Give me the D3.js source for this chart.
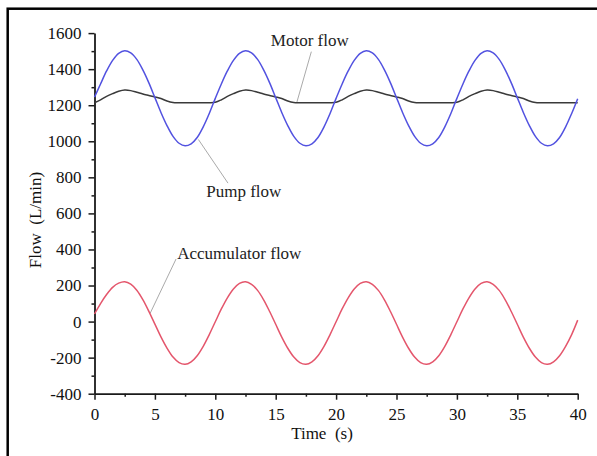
<!DOCTYPE html>
<html>
<head>
<meta charset="utf-8">
<script src="https://cdn.jsdelivr.net/npm/d3@7"></script>
<style>
	html, body { margin: 0; padding: 0; background: #fff; }
	svg { display: block; font-family: 'Liberation Serif', 'Times New Roman', serif; }
</style>
</head>
<body>
<div id="chart"></div>
<script>
// flow vs time (0.5 s steps)
const timeStep = 0.5;
const timeMax = 40;

const pumpFlow = [
	1245, 1318, 1390, 1449, 1488, 1502, 1490, 1454, 1396, 1324,
	1242, 1160, 1087, 1027, 989, 975, 986, 1021, 1080, 1154,
	1238, 1318, 1390, 1449, 1488, 1502, 1490, 1454, 1396, 1324,
	1242, 1160, 1087, 1027, 989, 975, 986, 1021, 1080, 1154,
	1238, 1318, 1390, 1449, 1488, 1502, 1490, 1454, 1396, 1324,
	1242, 1160, 1087, 1027, 989, 975, 986, 1021, 1080, 1154,
	1238, 1318, 1390, 1449, 1488, 1502, 1490, 1454, 1396, 1324,
	1242, 1160, 1087, 1027, 989, 975, 986, 1021, 1080, 1154,
	1236
];

const motorFlow = [
	1214, 1230, 1249, 1264, 1277, 1284, 1281, 1272, 1262, 1254,
	1246, 1237, 1223, 1215, 1214, 1214, 1214, 1214, 1214, 1214,
	1216, 1230, 1249, 1264, 1277, 1284, 1281, 1272, 1262, 1254,
	1246, 1237, 1223, 1215, 1214, 1214, 1214, 1214, 1214, 1214,
	1216, 1230, 1249, 1264, 1277, 1284, 1281, 1272, 1262, 1254,
	1246, 1237, 1223, 1215, 1214, 1214, 1214, 1214, 1214, 1214,
	1216, 1230, 1249, 1264, 1277, 1284, 1281, 1272, 1262, 1254,
	1246, 1237, 1223, 1215, 1214, 1214, 1214, 1214, 1214, 1214,
	1214
];

const accumulatorFlow = [
	42, 100, 150, 190, 213, 221, 208, 174, 122, 57,
	-14, -85, -147, -197, -228, -237, -223, -189, -137, -72,
	-1, 70, 132, 181, 212, 221, 207, 173, 121, 56,
	-15, -86, -148, -197, -228, -237, -223, -189, -137, -72,
	-1, 70, 132, 181, 212, 221, 207, 173, 121, 56,
	-15, -86, -148, -197, -228, -237, -223, -189, -137, -72,
	-1, 70, 132, 181, 212, 221, 207, 173, 121, 56,
	-15, -86, -148, -197, -228, -237, -223, -189, -137, -72,
	8
];

const xTicks = [0, 5, 10, 15, 20, 25, 30, 35, 40];
const yTicks = [-400, -200, 0, 200, 400, 600, 800, 1000, 1200, 1400, 1600];

// callout labels: text, label anchor (t, v), leader line from (t, v) to (t, v)
const labelText = ['Motor flow', 'Pump flow', 'Accumulator flow'];
const labelAt = [[14.6, 1528], [9.25, 691], [6.85, 347]];
const leaderFrom = [[17.95, 1497], [11.05, 768], [6.75, 347]];
const leaderTo = [[16.75, 1216], [8.6, 1010], [4.6, 45]];

(() => {
	const width = 597;
	const height = 456;

	const svg = d3.select('#chart')
		.append('svg')
		.attr('width', width)
		.attr('height', height);

	// outer frame, runs off the right and bottom edges
	svg.append('rect')
		.attr('x', 7.7)
		.attr('y', 8.7)
		.attr('width', 620)
		.attr('height', 480)
		.attr('fill', 'none')
		.attr('stroke', '#000')
		.attr('stroke-width', 2.5);

	const x = d3.scaleLinear().domain([0, 40]).range([94.5, 577.7]);
	const y = d3.scaleLinear().domain([-400, 1600]).range([393.7, 33.1]);

	const time = d3.range(0, timeMax + timeStep / 2, timeStep);

	const axisColor = '#1a1a1a';
	const fontSize = 17;
	const plain = d => String(d);

	// minor ticks first
	const xMinor = svg.append('g')
		.attr('transform', `translate(0,${y(-400)})`)
		.call(d3.axisBottom(x).tickValues(d3.range(2.5, 40, 5)).tickSize(3).tickFormat(''));
	const yMinor = svg.append('g')
		.attr('transform', `translate(${x(0)},0)`)
		.call(d3.axisLeft(y).tickValues(d3.range(-300, 1600, 200)).tickSize(3).tickFormat(''));
	[xMinor, yMinor].forEach(a => {
		a.select('.domain').remove();
		a.selectAll('line').attr('stroke', axisColor).attr('stroke-width', 1.5);
	});

	const xAxisG = svg.append('g')
		.attr('transform', `translate(0,${y(-400)})`)
		.call(d3.axisBottom(x).tickValues(xTicks).tickFormat(plain).tickSize(6).tickSizeOuter(0).tickPadding(8));
	const yAxisG = svg.append('g')
		.attr('transform', `translate(${x(0)},0)`)
		.call(d3.axisLeft(y).tickValues(yTicks).tickFormat(plain).tickSize(6).tickSizeOuter(0).tickPadding(7));

	[xAxisG, yAxisG].forEach(a => {
		a.select('.domain').attr('stroke', axisColor).attr('stroke-width', 1.8);
		a.selectAll('line').attr('stroke', axisColor).attr('stroke-width', 1.5);
		a.selectAll('text')
			.attr('fill', '#111')
			.attr('font-size', fontSize)
			.attr('font-family', "'Liberation Serif', serif");
	});

	// axis titles
	svg.append('text')
		.attr('x', 322)
		.attr('y', 439)
		.attr('text-anchor', 'middle')
		.attr('font-size', fontSize)
		.attr('fill', '#111')
		.style('white-space', 'pre')
		.text('Time  (s)');

	svg.append('text')
		.attr('transform', 'translate(41,220) rotate(-90)')
		.attr('text-anchor', 'middle')
		.attr('font-size', fontSize)
		.attr('fill', '#111')
		.style('white-space', 'pre')
		.text('Flow  (L/min)');

	const line = d3.line()
		.x((d, i) => x(time[i]))
		.y(d => y(d))
		.curve(d3.curveCatmullRom);

	const series = [
		{ values: motorFlow, color: '#3a3a3a' },
		{ values: pumpFlow, color: '#5252e0' },
		{ values: accumulatorFlow, color: '#e4566c' }
	];

	// leader lines under the curves
	labelText.forEach((t, i) => {
		svg.append('line')
			.attr('x1', x(leaderFrom[i][0]))
			.attr('y1', y(leaderFrom[i][1]))
			.attr('x2', x(leaderTo[i][0]))
			.attr('y2', y(leaderTo[i][1]))
			.attr('stroke', '#aaa')
			.attr('stroke-width', 1);
	});

	series.forEach(s => {
		svg.append('path')
			.datum(s.values)
			.attr('fill', 'none')
			.attr('stroke', s.color)
			.attr('stroke-width', 1.5)
			.attr('d', line);
	});

	labelText.forEach((t, i) => {
		svg.append('text')
			.attr('x', x(labelAt[i][0]))
			.attr('y', y(labelAt[i][1]))
			.attr('font-size', fontSize)
			.attr('fill', '#222')
			.text(t);
	});
})();
</script>
</body>
</html>
